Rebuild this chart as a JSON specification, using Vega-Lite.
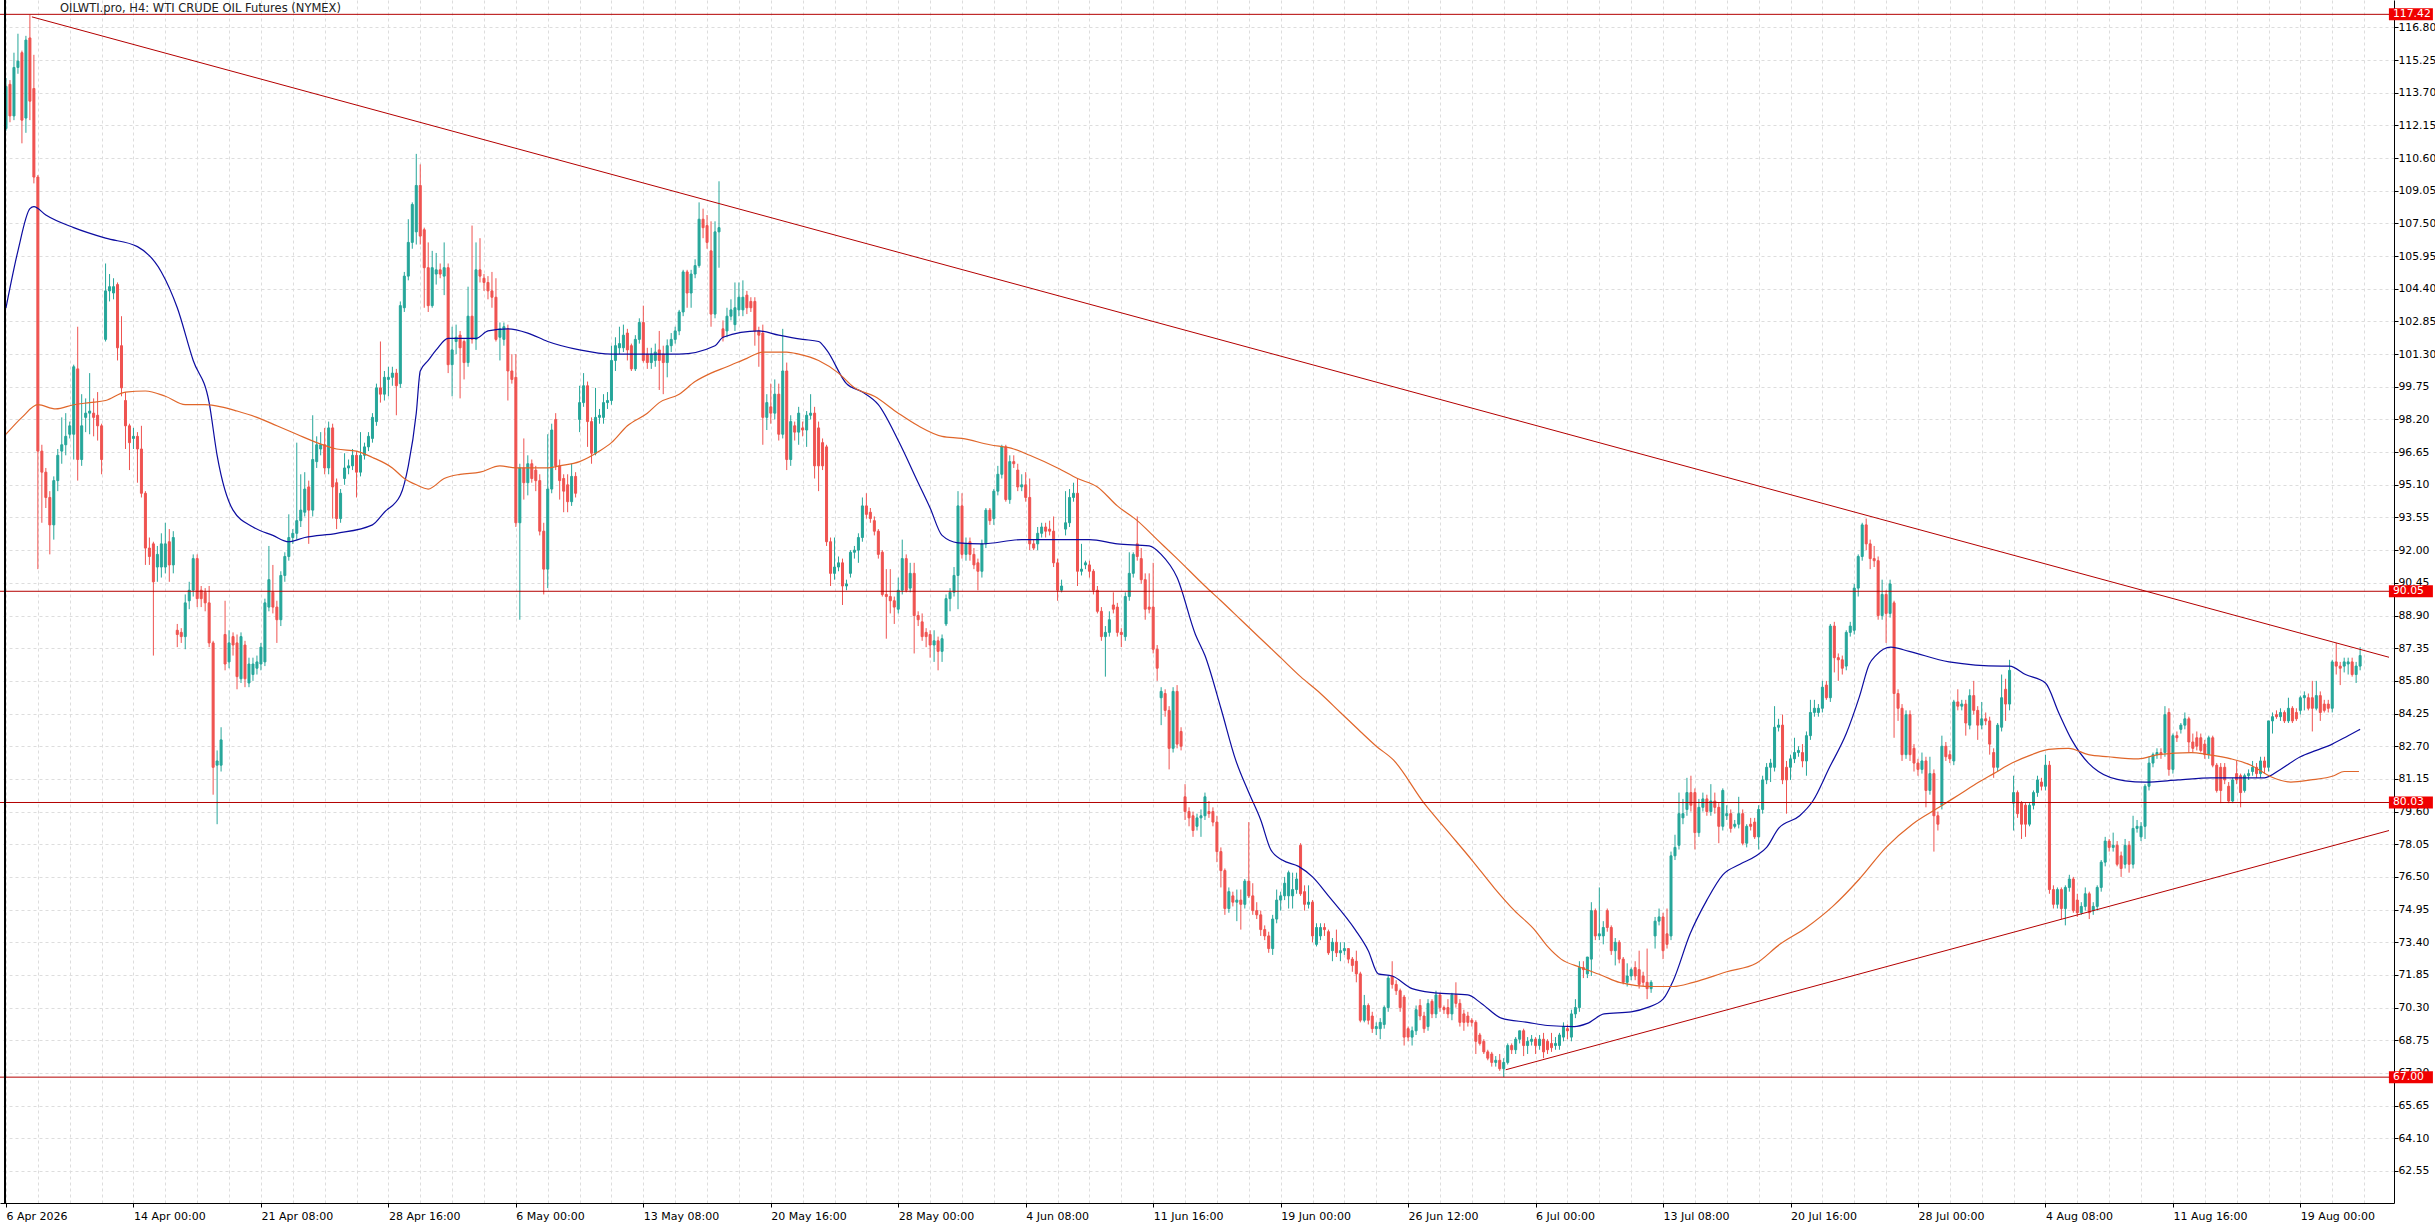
{
  "$schema": "https://vega.github.io/schema/vega-lite/v6.json",
  "width": 2394,
  "height": 1203,
  "autosize": {"type": "none"},
  "padding": {"left": 0, "top": 0, "right": 41, "bottom": 24},
  "background": "#ffffff",
  "config": {
    "view": {"stroke": null},
    "axis": {"labelOverlap": false, "labelSeparation": 0, "labelBound": false}
  },
  "title": {
    "text": "OILWTI.pro, H4:  WTI CRUDE OIL Futures (NYMEX)",
    "anchor": "start",
    "frame": "group",
    "offset": -15,
    "dx": 60,
    "font": "DejaVu Sans",
    "fontSize": 11.5,
    "fontWeight": "normal",
    "color": "#222222"
  },
  "datasets": {
    "candles": [
      {"i":0,"o":112.0,"h":114.4,"l":111.9,"c":114.0},
      {"i":1,"o":114.1,"h":114.3,"l":112.3,"c":112.6},
      {"i":2,"o":112.6,"h":115.6,"l":112.4,"c":114.9},
      {"i":3,"o":114.9,"h":116.5,"l":114.6,"c":115.2},
      {"i":4,"o":115.6,"h":115.7,"l":111.3,"c":112.4},
      {"i":5,"o":112.5,"h":116.4,"l":111.8,"c":116.2},
      {"i":6,"o":116.3,"h":117.4,"l":112.4,"c":113.3},
      {"i":7,"o":113.9,"h":115.5,"l":109.4,"c":109.7},
      {"i":8,"o":109.7,"h":109.8,"l":91.1,"c":96.7},
      {"i":9,"o":96.7,"h":97.0,"l":93.3,"c":95.7},
      {"i":10,"o":95.7,"h":95.9,"l":94.0,"c":94.5},
      {"i":11,"o":94.5,"h":94.8,"l":91.8,"c":93.2},
      {"i":12,"o":93.2,"h":95.5,"l":92.5,"c":95.3},
      {"i":13,"o":95.3,"h":96.8,"l":94.8,"c":96.5},
      {"i":14,"o":96.7,"h":98.3,"l":96.1,"c":97.0},
      {"i":15,"o":97.0,"h":98.5,"l":96.5,"c":97.4},
      {"i":16,"o":97.5,"h":98.1,"l":97.3,"c":97.9},
      {"i":17,"o":97.5,"h":100.8,"l":96.3,"c":100.7},
      {"i":18,"o":100.6,"h":102.6,"l":95.3,"c":96.3},
      {"i":19,"o":96.3,"h":99.4,"l":96.0,"c":97.9},
      {"i":20,"o":98.3,"h":99.2,"l":97.6,"c":98.5},
      {"i":21,"o":98.5,"h":100.4,"l":97.5,"c":98.6},
      {"i":22,"o":98.5,"h":99.2,"l":97.4,"c":98.3},
      {"i":23,"o":98.4,"h":99.5,"l":97.2,"c":97.9},
      {"i":24,"o":97.9,"h":98.0,"l":95.6,"c":96.3},
      {"i":25,"o":102.0,"h":105.6,"l":101.9,"c":104.3},
      {"i":26,"o":104.3,"h":105.1,"l":103.8,"c":104.5},
      {"i":27,"o":104.2,"h":104.9,"l":103.9,"c":104.5},
      {"i":28,"o":104.6,"h":104.7,"l":101.0,"c":101.6},
      {"i":29,"o":101.7,"h":103.1,"l":99.3,"c":99.7},
      {"i":30,"o":99.1,"h":99.5,"l":96.8,"c":97.9},
      {"i":31,"o":97.9,"h":98.0,"l":95.8,"c":97.1},
      {"i":32,"o":97.3,"h":97.8,"l":96.8,"c":97.4},
      {"i":33,"o":97.4,"h":97.6,"l":95.2,"c":96.8},
      {"i":34,"o":96.8,"h":97.9,"l":94.5,"c":94.7},
      {"i":35,"o":94.7,"h":94.8,"l":91.3,"c":92.1},
      {"i":36,"o":92.1,"h":92.6,"l":91.3,"c":91.7},
      {"i":37,"o":92.3,"h":92.4,"l":87.0,"c":90.5},
      {"i":38,"o":91.2,"h":92.2,"l":90.5,"c":91.8},
      {"i":39,"o":91.2,"h":92.8,"l":90.7,"c":92.3},
      {"i":40,"o":91.2,"h":93.3,"l":90.9,"c":92.3},
      {"i":41,"o":92.4,"h":93.0,"l":90.5,"c":91.3},
      {"i":42,"o":91.3,"h":92.9,"l":90.9,"c":92.6},
      {"i":43,"o":88.2,"h":88.5,"l":87.4,"c":88.0},
      {"i":44,"o":88.1,"h":88.3,"l":87.6,"c":87.9},
      {"i":45,"o":87.9,"h":89.9,"l":87.3,"c":89.5},
      {"i":46,"o":89.6,"h":90.5,"l":89.2,"c":90.1},
      {"i":47,"o":90.1,"h":91.8,"l":89.8,"c":91.6},
      {"i":48,"o":91.6,"h":91.8,"l":89.3,"c":89.7},
      {"i":49,"o":90.1,"h":90.3,"l":89.3,"c":89.7},
      {"i":50,"o":90.0,"h":90.2,"l":89.1,"c":89.5},
      {"i":51,"o":89.5,"h":90.3,"l":87.4,"c":87.6},
      {"i":52,"o":87.6,"h":87.7,"l":80.4,"c":81.7},
      {"i":53,"o":81.8,"h":82.5,"l":79.0,"c":82.0},
      {"i":54,"o":81.8,"h":83.6,"l":81.5,"c":83.0},
      {"i":55,"o":88.0,"h":89.6,"l":86.3,"c":86.6},
      {"i":56,"o":86.7,"h":88.2,"l":86.4,"c":87.6},
      {"i":57,"o":87.9,"h":88.1,"l":87.0,"c":87.5},
      {"i":58,"o":87.6,"h":88.0,"l":85.4,"c":86.0},
      {"i":59,"o":85.9,"h":88.1,"l":85.7,"c":87.9},
      {"i":60,"o":87.5,"h":87.7,"l":85.5,"c":85.9},
      {"i":61,"o":85.7,"h":86.9,"l":85.5,"c":86.6},
      {"i":62,"o":86.1,"h":86.9,"l":85.8,"c":86.6},
      {"i":63,"o":86.4,"h":87.0,"l":86.1,"c":86.7},
      {"i":64,"o":86.6,"h":87.6,"l":86.3,"c":87.4},
      {"i":65,"o":86.7,"h":89.7,"l":86.5,"c":89.5},
      {"i":66,"o":89.3,"h":92.2,"l":89.1,"c":90.6},
      {"i":67,"o":90.0,"h":91.3,"l":89.0,"c":89.3},
      {"i":68,"o":89.3,"h":89.6,"l":87.6,"c":88.7},
      {"i":69,"o":88.7,"h":91.0,"l":88.4,"c":90.8},
      {"i":70,"o":90.8,"h":91.9,"l":90.5,"c":91.7},
      {"i":71,"o":91.7,"h":93.7,"l":91.5,"c":92.6},
      {"i":72,"o":92.6,"h":93.0,"l":92.3,"c":92.8},
      {"i":73,"o":92.8,"h":97.1,"l":92.5,"c":93.4},
      {"i":74,"o":93.4,"h":95.6,"l":93.1,"c":93.9},
      {"i":75,"o":93.8,"h":95.7,"l":93.6,"c":94.9},
      {"i":76,"o":95.0,"h":95.3,"l":92.3,"c":93.9},
      {"i":77,"o":93.9,"h":98.4,"l":93.6,"c":96.3},
      {"i":78,"o":96.2,"h":97.4,"l":95.9,"c":97.0},
      {"i":79,"o":96.8,"h":97.6,"l":96.5,"c":97.0},
      {"i":80,"o":97.0,"h":97.8,"l":95.6,"c":95.9},
      {"i":81,"o":95.9,"h":98.1,"l":95.6,"c":97.8},
      {"i":82,"o":97.8,"h":98.0,"l":93.5,"c":95.0},
      {"i":83,"o":95.2,"h":95.4,"l":93.0,"c":93.5},
      {"i":84,"o":93.5,"h":94.9,"l":93.3,"c":94.7},
      {"i":85,"o":95.4,"h":96.6,"l":95.1,"c":95.9},
      {"i":86,"o":95.9,"h":96.3,"l":95.6,"c":96.0},
      {"i":87,"o":96.0,"h":96.8,"l":95.8,"c":96.5},
      {"i":88,"o":96.5,"h":96.7,"l":94.5,"c":95.7},
      {"i":89,"o":95.7,"h":97.6,"l":95.5,"c":96.5},
      {"i":90,"o":96.5,"h":97.1,"l":96.3,"c":96.9},
      {"i":91,"o":96.9,"h":97.6,"l":96.7,"c":97.4},
      {"i":92,"o":97.3,"h":98.5,"l":97.1,"c":98.3},
      {"i":93,"o":98.1,"h":99.9,"l":97.9,"c":99.7},
      {"i":94,"o":99.7,"h":101.9,"l":99.0,"c":99.4},
      {"i":95,"o":99.4,"h":100.5,"l":99.1,"c":100.2},
      {"i":96,"o":100.1,"h":100.7,"l":99.3,"c":100.2},
      {"i":97,"o":100.2,"h":100.7,"l":99.8,"c":100.4},
      {"i":98,"o":100.4,"h":100.6,"l":98.4,"c":99.8},
      {"i":99,"o":99.9,"h":103.8,"l":99.7,"c":103.6},
      {"i":100,"o":103.5,"h":105.2,"l":103.3,"c":105.0},
      {"i":101,"o":105.0,"h":107.7,"l":104.8,"c":106.6},
      {"i":102,"o":106.6,"h":108.5,"l":106.3,"c":108.4},
      {"i":103,"o":107.1,"h":110.8,"l":106.5,"c":109.3},
      {"i":104,"o":109.3,"h":110.3,"l":106.5,"c":106.9},
      {"i":105,"o":107.2,"h":107.3,"l":103.5,"c":105.4},
      {"i":106,"o":105.4,"h":106.6,"l":103.3,"c":103.6},
      {"i":107,"o":103.6,"h":106.2,"l":103.5,"c":105.4},
      {"i":108,"o":105.1,"h":106.1,"l":104.6,"c":105.3},
      {"i":109,"o":105.3,"h":105.6,"l":104.9,"c":105.1},
      {"i":110,"o":105.0,"h":106.6,"l":104.1,"c":105.4},
      {"i":111,"o":105.4,"h":105.6,"l":100.4,"c":100.8},
      {"i":112,"o":100.8,"h":102.6,"l":99.3,"c":101.5},
      {"i":113,"o":101.9,"h":102.7,"l":101.3,"c":102.1},
      {"i":114,"o":102.2,"h":102.4,"l":99.2,"c":101.6},
      {"i":115,"o":101.9,"h":102.0,"l":100.1,"c":100.9},
      {"i":116,"o":100.9,"h":104.5,"l":100.7,"c":103.1},
      {"i":117,"o":103.1,"h":107.4,"l":101.8,"c":102.0},
      {"i":118,"o":102.0,"h":106.6,"l":101.5,"c":105.3},
      {"i":119,"o":105.3,"h":106.8,"l":104.7,"c":105.0},
      {"i":120,"o":104.9,"h":105.1,"l":104.3,"c":104.7},
      {"i":121,"o":104.7,"h":105.0,"l":103.9,"c":104.3},
      {"i":122,"o":104.3,"h":105.2,"l":103.5,"c":104.0},
      {"i":123,"o":104.0,"h":104.9,"l":101.9,"c":102.0},
      {"i":124,"o":102.1,"h":102.8,"l":101.0,"c":102.5},
      {"i":125,"o":102.0,"h":102.8,"l":101.7,"c":102.6},
      {"i":126,"o":102.5,"h":102.7,"l":99.1,"c":100.5},
      {"i":127,"o":100.5,"h":101.3,"l":99.9,"c":100.1},
      {"i":128,"o":100.2,"h":101.3,"l":93.1,"c":93.3},
      {"i":129,"o":93.3,"h":96.1,"l":88.7,"c":95.9},
      {"i":130,"o":95.9,"h":97.3,"l":94.4,"c":95.2},
      {"i":131,"o":95.2,"h":96.5,"l":94.6,"c":96.1},
      {"i":132,"o":96.1,"h":96.3,"l":95.2,"c":95.4},
      {"i":133,"o":95.8,"h":96.0,"l":94.8,"c":95.3},
      {"i":134,"o":95.3,"h":95.6,"l":92.7,"c":92.9},
      {"i":135,"o":92.9,"h":93.3,"l":89.9,"c":91.1},
      {"i":136,"o":91.1,"h":97.5,"l":90.2,"c":94.9},
      {"i":137,"o":94.9,"h":98.0,"l":94.7,"c":97.7},
      {"i":138,"o":98.2,"h":98.5,"l":95.8,"c":96.0},
      {"i":139,"o":96.0,"h":96.3,"l":94.4,"c":95.3},
      {"i":140,"o":95.4,"h":95.6,"l":93.8,"c":94.8},
      {"i":141,"o":95.1,"h":95.6,"l":93.8,"c":94.3},
      {"i":142,"o":94.3,"h":96.1,"l":94.1,"c":95.5},
      {"i":143,"o":95.5,"h":95.7,"l":94.5,"c":94.7},
      {"i":144,"o":98.2,"h":99.8,"l":97.6,"c":99.0},
      {"i":145,"o":99.0,"h":100.4,"l":98.8,"c":99.8},
      {"i":146,"o":99.8,"h":100.0,"l":96.9,"c":98.1},
      {"i":147,"o":98.1,"h":98.3,"l":96.1,"c":96.6},
      {"i":148,"o":96.6,"h":99.7,"l":96.5,"c":98.3},
      {"i":149,"o":98.3,"h":98.7,"l":98.0,"c":98.4},
      {"i":150,"o":98.3,"h":99.4,"l":98.0,"c":99.0},
      {"i":151,"o":99.0,"h":99.5,"l":98.7,"c":99.1},
      {"i":152,"o":99.1,"h":101.7,"l":98.9,"c":101.0},
      {"i":153,"o":101.0,"h":102.1,"l":100.5,"c":101.7},
      {"i":154,"o":101.6,"h":102.6,"l":101.3,"c":101.8},
      {"i":155,"o":101.6,"h":102.7,"l":101.4,"c":102.2},
      {"i":156,"o":102.3,"h":102.5,"l":101.0,"c":101.5},
      {"i":157,"o":101.7,"h":101.8,"l":100.5,"c":100.6},
      {"i":158,"o":100.6,"h":102.2,"l":100.5,"c":102.0},
      {"i":159,"o":102.0,"h":103.0,"l":101.8,"c":102.8},
      {"i":160,"o":102.8,"h":103.6,"l":100.9,"c":101.0},
      {"i":161,"o":101.3,"h":101.6,"l":100.6,"c":100.9},
      {"i":162,"o":100.9,"h":101.6,"l":100.6,"c":101.3},
      {"i":163,"o":101.0,"h":101.8,"l":100.7,"c":101.4},
      {"i":164,"o":101.5,"h":102.4,"l":99.6,"c":101.0},
      {"i":165,"o":101.3,"h":101.7,"l":99.4,"c":100.9},
      {"i":166,"o":100.9,"h":102.0,"l":100.2,"c":101.7},
      {"i":167,"o":101.7,"h":102.3,"l":101.4,"c":102.0},
      {"i":168,"o":102.0,"h":102.6,"l":101.8,"c":102.4},
      {"i":169,"o":102.4,"h":103.4,"l":102.2,"c":103.3},
      {"i":170,"o":103.3,"h":105.3,"l":103.1,"c":105.2},
      {"i":171,"o":105.2,"h":105.3,"l":103.5,"c":104.2},
      {"i":172,"o":104.2,"h":105.3,"l":103.5,"c":105.1},
      {"i":173,"o":105.1,"h":105.8,"l":104.9,"c":105.5},
      {"i":174,"o":105.5,"h":108.5,"l":105.4,"c":107.7},
      {"i":175,"o":107.7,"h":108.2,"l":106.8,"c":107.3},
      {"i":176,"o":107.4,"h":107.9,"l":106.3,"c":106.6},
      {"i":177,"o":106.2,"h":107.6,"l":102.6,"c":103.2},
      {"i":178,"o":103.2,"h":107.6,"l":103.0,"c":107.1},
      {"i":179,"o":107.1,"h":109.5,"l":105.4,"c":107.3},
      {"i":180,"o":102.5,"h":102.9,"l":101.9,"c":102.1},
      {"i":181,"o":102.4,"h":103.5,"l":102.1,"c":103.1},
      {"i":182,"o":103.1,"h":103.9,"l":102.9,"c":103.4},
      {"i":183,"o":102.7,"h":104.7,"l":102.4,"c":103.5},
      {"i":184,"o":103.4,"h":104.7,"l":103.1,"c":104.0},
      {"i":185,"o":103.4,"h":104.8,"l":103.1,"c":104.0},
      {"i":186,"o":104.1,"h":104.3,"l":103.2,"c":103.5},
      {"i":187,"o":103.8,"h":104.0,"l":103.3,"c":103.5},
      {"i":188,"o":103.8,"h":104.0,"l":101.7,"c":102.4},
      {"i":189,"o":102.4,"h":102.6,"l":100.7,"c":102.2},
      {"i":190,"o":102.3,"h":102.7,"l":97.0,"c":98.3},
      {"i":191,"o":98.3,"h":99.4,"l":97.7,"c":99.0},
      {"i":192,"o":98.8,"h":99.9,"l":98.0,"c":98.5},
      {"i":193,"o":98.5,"h":100.1,"l":98.2,"c":99.4},
      {"i":194,"o":99.4,"h":99.9,"l":97.2,"c":97.5},
      {"i":195,"o":97.5,"h":102.5,"l":97.3,"c":100.5},
      {"i":196,"o":100.5,"h":100.9,"l":95.8,"c":96.3},
      {"i":197,"o":96.3,"h":98.4,"l":96.0,"c":98.1},
      {"i":198,"o":97.9,"h":98.1,"l":97.2,"c":97.6},
      {"i":199,"o":97.6,"h":98.8,"l":97.0,"c":98.5},
      {"i":200,"o":97.8,"h":98.1,"l":97.4,"c":97.7},
      {"i":201,"o":97.7,"h":98.6,"l":96.9,"c":98.4},
      {"i":202,"o":98.4,"h":99.4,"l":98.2,"c":98.5},
      {"i":203,"o":98.5,"h":98.8,"l":95.4,"c":96.0},
      {"i":204,"o":97.8,"h":98.1,"l":94.8,"c":96.0},
      {"i":205,"o":97.1,"h":97.3,"l":95.8,"c":96.0},
      {"i":206,"o":96.9,"h":97.0,"l":92.2,"c":92.4},
      {"i":207,"o":92.4,"h":92.6,"l":90.3,"c":90.9},
      {"i":208,"o":90.9,"h":92.6,"l":90.6,"c":91.2},
      {"i":209,"o":91.2,"h":91.7,"l":91.0,"c":91.4},
      {"i":210,"o":91.4,"h":91.6,"l":89.4,"c":90.3},
      {"i":211,"o":90.3,"h":90.6,"l":90.1,"c":90.4},
      {"i":212,"o":90.9,"h":92.0,"l":90.7,"c":91.9},
      {"i":213,"o":91.9,"h":92.2,"l":91.6,"c":92.0},
      {"i":214,"o":92.0,"h":92.8,"l":91.4,"c":92.6},
      {"i":215,"o":92.6,"h":94.5,"l":92.4,"c":94.1},
      {"i":216,"o":94.1,"h":94.7,"l":93.5,"c":93.7},
      {"i":217,"o":93.8,"h":94.0,"l":93.3,"c":93.5},
      {"i":218,"o":93.4,"h":93.6,"l":92.7,"c":92.9},
      {"i":219,"o":92.9,"h":93.0,"l":91.6,"c":91.8},
      {"i":220,"o":91.9,"h":92.0,"l":89.8,"c":89.9},
      {"i":221,"o":89.9,"h":91.1,"l":87.8,"c":89.8},
      {"i":222,"o":89.8,"h":91.1,"l":89.0,"c":89.6},
      {"i":223,"o":89.6,"h":89.8,"l":88.5,"c":89.3},
      {"i":224,"o":89.2,"h":90.7,"l":89.0,"c":90.1},
      {"i":225,"o":90.1,"h":92.5,"l":89.9,"c":91.6},
      {"i":226,"o":91.6,"h":91.8,"l":90.0,"c":90.1},
      {"i":227,"o":90.2,"h":91.4,"l":90.0,"c":90.9},
      {"i":228,"o":90.9,"h":91.4,"l":87.1,"c":88.9},
      {"i":229,"o":88.9,"h":89.1,"l":88.4,"c":88.7},
      {"i":230,"o":88.6,"h":89.0,"l":87.7,"c":87.9},
      {"i":231,"o":88.1,"h":88.3,"l":87.4,"c":87.9},
      {"i":232,"o":88.0,"h":88.2,"l":86.9,"c":87.5},
      {"i":233,"o":87.5,"h":88.2,"l":86.7,"c":87.7},
      {"i":234,"o":87.7,"h":87.9,"l":86.3,"c":87.2},
      {"i":235,"o":87.2,"h":88.0,"l":86.7,"c":87.8},
      {"i":236,"o":88.5,"h":89.9,"l":88.4,"c":89.7},
      {"i":237,"o":89.7,"h":90.2,"l":89.1,"c":90.0},
      {"i":238,"o":90.0,"h":91.2,"l":89.8,"c":90.8},
      {"i":239,"o":90.8,"h":94.8,"l":89.2,"c":94.1},
      {"i":240,"o":94.1,"h":94.7,"l":91.6,"c":91.8},
      {"i":241,"o":91.8,"h":92.6,"l":91.5,"c":92.3},
      {"i":242,"o":92.4,"h":92.6,"l":91.5,"c":91.8},
      {"i":243,"o":91.8,"h":92.1,"l":91.1,"c":91.3},
      {"i":244,"o":91.4,"h":91.6,"l":90.1,"c":91.0},
      {"i":245,"o":91.0,"h":92.5,"l":90.7,"c":92.3},
      {"i":246,"o":92.3,"h":94.0,"l":92.1,"c":93.9},
      {"i":247,"o":93.9,"h":94.0,"l":93.2,"c":93.4},
      {"i":248,"o":93.5,"h":94.9,"l":93.2,"c":94.8},
      {"i":249,"o":94.8,"h":96.0,"l":94.6,"c":95.6},
      {"i":250,"o":95.6,"h":97.0,"l":95.4,"c":96.9},
      {"i":251,"o":96.9,"h":97.0,"l":94.3,"c":94.4},
      {"i":252,"o":94.4,"h":96.5,"l":94.2,"c":96.2},
      {"i":253,"o":96.2,"h":96.5,"l":95.9,"c":96.1},
      {"i":254,"o":95.8,"h":96.1,"l":94.8,"c":95.0},
      {"i":255,"o":95.0,"h":95.6,"l":94.8,"c":95.1},
      {"i":256,"o":95.1,"h":95.7,"l":94.3,"c":94.5},
      {"i":257,"o":94.5,"h":95.4,"l":92.0,"c":92.3},
      {"i":258,"o":92.3,"h":92.5,"l":92.0,"c":92.1},
      {"i":259,"o":92.3,"h":93.1,"l":92.0,"c":92.8},
      {"i":260,"o":92.8,"h":93.3,"l":92.6,"c":93.1},
      {"i":261,"o":93.1,"h":93.3,"l":92.6,"c":92.9},
      {"i":262,"o":93.0,"h":93.4,"l":92.7,"c":92.9},
      {"i":263,"o":92.9,"h":93.6,"l":91.2,"c":91.4},
      {"i":264,"o":91.4,"h":91.6,"l":89.6,"c":90.1},
      {"i":265,"o":90.1,"h":90.6,"l":90.0,"c":90.3},
      {"i":266,"o":93.0,"h":94.8,"l":92.7,"c":93.3},
      {"i":267,"o":93.3,"h":94.9,"l":93.1,"c":94.5},
      {"i":268,"o":94.5,"h":95.2,"l":94.3,"c":94.7},
      {"i":269,"o":94.7,"h":95.4,"l":90.3,"c":91.0},
      {"i":270,"o":91.0,"h":92.3,"l":90.8,"c":91.1},
      {"i":271,"o":91.3,"h":91.5,"l":91.1,"c":91.4},
      {"i":272,"o":91.3,"h":91.5,"l":90.7,"c":91.0},
      {"i":273,"o":91.0,"h":91.1,"l":89.9,"c":90.1},
      {"i":274,"o":90.1,"h":90.3,"l":89.0,"c":89.1},
      {"i":275,"o":89.1,"h":89.3,"l":87.7,"c":87.9},
      {"i":276,"o":87.9,"h":88.4,"l":86.0,"c":88.1},
      {"i":277,"o":88.1,"h":89.1,"l":87.9,"c":88.7},
      {"i":278,"o":89.4,"h":90.0,"l":89.0,"c":89.2},
      {"i":279,"o":89.3,"h":89.5,"l":87.9,"c":88.1},
      {"i":280,"o":88.1,"h":88.3,"l":87.4,"c":88.0},
      {"i":281,"o":87.9,"h":90.0,"l":87.7,"c":89.8},
      {"i":282,"o":89.8,"h":91.9,"l":89.6,"c":90.9},
      {"i":283,"o":90.9,"h":91.9,"l":90.7,"c":91.8},
      {"i":284,"o":92.3,"h":93.6,"l":91.5,"c":91.7},
      {"i":285,"o":91.6,"h":92.1,"l":90.4,"c":90.6},
      {"i":286,"o":90.6,"h":90.9,"l":88.7,"c":89.2},
      {"i":287,"o":89.3,"h":90.9,"l":89.0,"c":89.2},
      {"i":288,"o":89.3,"h":91.4,"l":87.1,"c":87.3},
      {"i":289,"o":87.3,"h":87.5,"l":85.8,"c":86.4},
      {"i":290,"o":85.0,"h":85.5,"l":83.7,"c":85.3},
      {"i":291,"o":85.2,"h":85.4,"l":84.1,"c":84.4},
      {"i":292,"o":84.4,"h":84.6,"l":81.6,"c":82.6},
      {"i":293,"o":82.6,"h":85.5,"l":82.4,"c":85.3},
      {"i":294,"o":85.3,"h":85.6,"l":82.6,"c":82.8},
      {"i":295,"o":83.4,"h":83.6,"l":82.5,"c":82.7},
      {"i":296,"o":80.3,"h":80.9,"l":79.2,"c":79.6},
      {"i":297,"o":79.6,"h":79.8,"l":78.9,"c":79.3},
      {"i":298,"o":79.4,"h":79.6,"l":78.4,"c":78.7},
      {"i":299,"o":78.9,"h":79.5,"l":78.7,"c":79.3},
      {"i":300,"o":79.3,"h":79.7,"l":78.4,"c":79.4},
      {"i":301,"o":79.4,"h":80.5,"l":79.2,"c":80.3},
      {"i":302,"o":79.6,"h":80.1,"l":79.3,"c":79.5},
      {"i":303,"o":79.6,"h":79.8,"l":78.9,"c":79.1},
      {"i":304,"o":79.1,"h":79.4,"l":77.2,"c":77.7},
      {"i":305,"o":77.7,"h":77.9,"l":76.0,"c":76.8},
      {"i":306,"o":76.8,"h":76.9,"l":74.7,"c":75.0},
      {"i":307,"o":75.0,"h":76.0,"l":74.8,"c":75.8},
      {"i":308,"o":75.6,"h":75.8,"l":75.1,"c":75.3},
      {"i":309,"o":75.3,"h":75.9,"l":74.4,"c":75.4},
      {"i":310,"o":75.4,"h":75.9,"l":74.0,"c":75.2},
      {"i":311,"o":75.2,"h":76.4,"l":75.0,"c":76.3},
      {"i":312,"o":76.3,"h":79.1,"l":75.5,"c":75.6},
      {"i":313,"o":75.6,"h":76.2,"l":74.7,"c":74.9},
      {"i":314,"o":74.9,"h":75.3,"l":74.5,"c":74.7},
      {"i":315,"o":74.7,"h":74.9,"l":73.7,"c":74.0},
      {"i":316,"o":74.0,"h":74.2,"l":73.5,"c":73.7},
      {"i":317,"o":73.7,"h":73.9,"l":72.9,"c":73.1},
      {"i":318,"o":73.1,"h":74.7,"l":72.8,"c":74.5},
      {"i":319,"o":74.5,"h":75.9,"l":74.3,"c":75.4},
      {"i":320,"o":75.4,"h":75.8,"l":74.9,"c":75.6},
      {"i":321,"o":75.6,"h":76.5,"l":75.4,"c":76.2},
      {"i":322,"o":75.6,"h":76.8,"l":75.0,"c":76.7},
      {"i":323,"o":75.6,"h":76.7,"l":75.0,"c":75.9},
      {"i":324,"o":75.9,"h":76.7,"l":75.7,"c":76.4},
      {"i":325,"o":78.0,"h":78.1,"l":75.6,"c":75.7},
      {"i":326,"o":75.8,"h":76.1,"l":74.9,"c":75.2},
      {"i":327,"o":75.2,"h":76.1,"l":75.0,"c":75.3},
      {"i":328,"o":75.3,"h":75.4,"l":73.4,"c":73.7},
      {"i":329,"o":73.3,"h":74.3,"l":73.2,"c":74.1},
      {"i":330,"o":73.7,"h":74.3,"l":73.5,"c":74.1},
      {"i":331,"o":74.1,"h":74.3,"l":73.7,"c":74.0},
      {"i":332,"o":73.9,"h":74.0,"l":72.8,"c":72.9},
      {"i":333,"o":73.0,"h":73.6,"l":72.5,"c":73.4},
      {"i":334,"o":73.4,"h":74.0,"l":72.7,"c":72.9},
      {"i":335,"o":72.9,"h":73.4,"l":72.5,"c":73.0},
      {"i":336,"o":73.0,"h":73.4,"l":72.8,"c":73.1},
      {"i":337,"o":73.1,"h":73.1,"l":72.4,"c":72.6},
      {"i":338,"o":72.6,"h":72.7,"l":72.0,"c":72.3},
      {"i":339,"o":72.5,"h":73.0,"l":71.5,"c":71.9},
      {"i":340,"o":71.9,"h":72.0,"l":69.6,"c":69.7},
      {"i":341,"o":69.7,"h":70.9,"l":69.6,"c":70.4},
      {"i":342,"o":70.4,"h":70.5,"l":69.5,"c":69.7},
      {"i":343,"o":69.9,"h":70.1,"l":69.1,"c":69.3},
      {"i":344,"o":69.3,"h":69.6,"l":69.0,"c":69.4},
      {"i":345,"o":69.3,"h":69.8,"l":68.8,"c":69.6},
      {"i":346,"o":69.5,"h":70.4,"l":69.3,"c":70.3},
      {"i":347,"o":70.3,"h":71.8,"l":70.1,"c":71.7},
      {"i":348,"o":71.8,"h":72.5,"l":71.2,"c":71.4},
      {"i":349,"o":71.4,"h":71.6,"l":70.9,"c":71.1},
      {"i":350,"o":71.1,"h":71.2,"l":70.1,"c":70.3},
      {"i":351,"o":70.8,"h":70.9,"l":68.5,"c":68.9},
      {"i":352,"o":69.3,"h":69.4,"l":68.7,"c":68.9},
      {"i":353,"o":68.9,"h":69.4,"l":68.5,"c":69.2},
      {"i":354,"o":69.2,"h":70.4,"l":69.0,"c":70.2},
      {"i":355,"o":70.4,"h":70.7,"l":69.7,"c":69.9},
      {"i":356,"o":69.9,"h":70.1,"l":69.1,"c":69.3},
      {"i":357,"o":69.4,"h":70.7,"l":69.2,"c":70.5},
      {"i":358,"o":70.6,"h":70.7,"l":69.8,"c":70.0},
      {"i":359,"o":70.0,"h":71.1,"l":69.8,"c":70.9},
      {"i":360,"o":70.9,"h":71.0,"l":70.1,"c":70.3},
      {"i":361,"o":70.3,"h":70.4,"l":70.0,"c":70.2},
      {"i":362,"o":70.3,"h":70.7,"l":69.8,"c":70.0},
      {"i":363,"o":70.0,"h":71.0,"l":69.7,"c":70.9},
      {"i":364,"o":70.9,"h":71.5,"l":70.3,"c":70.5},
      {"i":365,"o":70.5,"h":70.7,"l":69.4,"c":69.6},
      {"i":366,"o":70.0,"h":70.2,"l":69.2,"c":69.6},
      {"i":367,"o":69.9,"h":70.1,"l":69.4,"c":69.6},
      {"i":368,"o":69.7,"h":69.8,"l":69.4,"c":69.6},
      {"i":369,"o":69.6,"h":69.7,"l":68.1,"c":68.7},
      {"i":370,"o":69.0,"h":69.1,"l":68.5,"c":68.6},
      {"i":371,"o":68.7,"h":68.8,"l":68.1,"c":68.2},
      {"i":372,"o":68.2,"h":68.3,"l":67.8,"c":67.9},
      {"i":373,"o":68.1,"h":68.2,"l":67.5,"c":67.7},
      {"i":374,"o":67.7,"h":68.0,"l":67.5,"c":67.8},
      {"i":375,"o":67.8,"h":68.1,"l":67.3,"c":67.4},
      {"i":376,"o":67.4,"h":67.9,"l":67.0,"c":67.7},
      {"i":377,"o":67.7,"h":68.6,"l":67.6,"c":68.5},
      {"i":378,"o":68.5,"h":68.6,"l":68.1,"c":68.3},
      {"i":379,"o":68.3,"h":68.9,"l":68.1,"c":68.8},
      {"i":380,"o":68.8,"h":69.2,"l":68.6,"c":69.2},
      {"i":381,"o":69.2,"h":69.3,"l":68.0,"c":68.5},
      {"i":382,"o":68.5,"h":68.9,"l":68.1,"c":68.7},
      {"i":383,"o":68.7,"h":69.0,"l":68.5,"c":68.8},
      {"i":384,"o":68.8,"h":68.9,"l":68.1,"c":68.5},
      {"i":385,"o":68.5,"h":69.0,"l":68.3,"c":68.8},
      {"i":386,"o":68.8,"h":69.1,"l":67.9,"c":68.2},
      {"i":387,"o":68.7,"h":68.8,"l":68.1,"c":68.3},
      {"i":388,"o":68.6,"h":69.1,"l":68.2,"c":68.4},
      {"i":389,"o":68.5,"h":68.9,"l":68.3,"c":68.6},
      {"i":390,"o":68.5,"h":69.1,"l":68.3,"c":69.0},
      {"i":391,"o":68.9,"h":69.6,"l":68.7,"c":69.4},
      {"i":392,"o":69.3,"h":69.5,"l":68.8,"c":69.2},
      {"i":393,"o":68.9,"h":70.2,"l":68.7,"c":70.0},
      {"i":394,"o":70.0,"h":70.7,"l":69.8,"c":70.3},
      {"i":395,"o":70.3,"h":72.5,"l":70.1,"c":72.2},
      {"i":396,"o":72.2,"h":72.5,"l":71.7,"c":72.1},
      {"i":397,"o":71.9,"h":72.7,"l":71.7,"c":72.7},
      {"i":398,"o":72.6,"h":75.3,"l":71.8,"c":74.9},
      {"i":399,"o":74.9,"h":75.0,"l":73.5,"c":73.7},
      {"i":400,"o":73.7,"h":76.0,"l":73.5,"c":73.8},
      {"i":401,"o":73.7,"h":74.4,"l":73.3,"c":74.1},
      {"i":402,"o":74.9,"h":75.0,"l":73.9,"c":74.1},
      {"i":403,"o":74.1,"h":74.2,"l":72.8,"c":73.0},
      {"i":404,"o":73.0,"h":73.6,"l":72.3,"c":73.4},
      {"i":405,"o":73.4,"h":73.5,"l":72.4,"c":72.6},
      {"i":406,"o":72.6,"h":72.7,"l":71.4,"c":71.5},
      {"i":407,"o":71.5,"h":72.4,"l":71.3,"c":71.8},
      {"i":408,"o":71.8,"h":72.2,"l":71.6,"c":72.1},
      {"i":409,"o":72.2,"h":72.5,"l":71.6,"c":71.8},
      {"i":410,"o":72.1,"h":73.0,"l":71.2,"c":71.4},
      {"i":411,"o":71.8,"h":72.0,"l":71.3,"c":71.5},
      {"i":412,"o":71.5,"h":73.1,"l":70.7,"c":71.2},
      {"i":413,"o":71.2,"h":71.6,"l":71.0,"c":71.5},
      {"i":414,"o":73.7,"h":74.6,"l":73.1,"c":74.4},
      {"i":415,"o":74.4,"h":75.0,"l":74.2,"c":74.6},
      {"i":416,"o":74.6,"h":74.8,"l":72.6,"c":73.0},
      {"i":417,"o":73.8,"h":75.0,"l":73.1,"c":73.3},
      {"i":418,"o":73.7,"h":77.7,"l":73.5,"c":77.5},
      {"i":419,"o":77.5,"h":78.5,"l":77.3,"c":77.9},
      {"i":420,"o":78.0,"h":80.5,"l":77.8,"c":79.5},
      {"i":421,"o":79.3,"h":80.2,"l":79.0,"c":79.5},
      {"i":422,"o":79.7,"h":81.2,"l":79.4,"c":80.5},
      {"i":423,"o":80.5,"h":81.3,"l":79.6,"c":79.9},
      {"i":424,"o":80.5,"h":80.7,"l":77.8,"c":78.6},
      {"i":425,"o":78.6,"h":80.2,"l":78.4,"c":79.8},
      {"i":426,"o":79.8,"h":80.5,"l":79.6,"c":80.2},
      {"i":427,"o":80.2,"h":80.4,"l":79.4,"c":79.6},
      {"i":428,"o":79.6,"h":80.9,"l":79.4,"c":80.1},
      {"i":429,"o":80.1,"h":80.5,"l":79.5,"c":79.8},
      {"i":430,"o":79.8,"h":80.0,"l":78.1,"c":78.9},
      {"i":431,"o":78.9,"h":80.7,"l":78.7,"c":80.6},
      {"i":432,"o":79.4,"h":79.9,"l":79.2,"c":79.5},
      {"i":433,"o":79.5,"h":79.7,"l":78.6,"c":78.8},
      {"i":434,"o":78.9,"h":79.2,"l":78.8,"c":79.0},
      {"i":435,"o":79.0,"h":80.3,"l":78.8,"c":79.5},
      {"i":436,"o":79.5,"h":79.7,"l":78.0,"c":78.1},
      {"i":437,"o":78.1,"h":79.0,"l":77.9,"c":78.9},
      {"i":438,"o":79.0,"h":79.3,"l":78.7,"c":78.9},
      {"i":439,"o":79.1,"h":79.3,"l":78.3,"c":78.4},
      {"i":440,"o":78.4,"h":79.9,"l":77.8,"c":79.7},
      {"i":441,"o":79.7,"h":81.3,"l":79.5,"c":81.1},
      {"i":442,"o":81.1,"h":81.9,"l":80.9,"c":81.7},
      {"i":443,"o":81.7,"h":82.1,"l":81.0,"c":81.9},
      {"i":444,"o":81.7,"h":84.6,"l":81.5,"c":83.6},
      {"i":445,"o":83.6,"h":84.0,"l":83.4,"c":83.7},
      {"i":446,"o":83.7,"h":84.2,"l":80.9,"c":81.1},
      {"i":447,"o":81.7,"h":82.0,"l":79.5,"c":81.1},
      {"i":448,"o":81.7,"h":82.3,"l":81.1,"c":82.1},
      {"i":449,"o":82.1,"h":83.1,"l":81.9,"c":82.4},
      {"i":450,"o":82.4,"h":82.7,"l":82.2,"c":82.5},
      {"i":451,"o":82.4,"h":82.8,"l":81.7,"c":82.0},
      {"i":452,"o":82.0,"h":83.4,"l":81.3,"c":83.2},
      {"i":453,"o":83.2,"h":84.9,"l":83.0,"c":84.3},
      {"i":454,"o":84.3,"h":84.9,"l":84.1,"c":84.5},
      {"i":455,"o":84.3,"h":84.7,"l":84.1,"c":84.5},
      {"i":456,"o":84.5,"h":85.8,"l":84.3,"c":85.5},
      {"i":457,"o":85.6,"h":85.8,"l":84.9,"c":85.0},
      {"i":458,"o":85.0,"h":88.5,"l":84.8,"c":88.4},
      {"i":459,"o":88.4,"h":88.6,"l":86.2,"c":86.9},
      {"i":460,"o":86.9,"h":87.1,"l":85.8,"c":86.8},
      {"i":461,"o":86.8,"h":87.0,"l":86.1,"c":86.4},
      {"i":462,"o":86.5,"h":88.2,"l":86.3,"c":88.1},
      {"i":463,"o":88.1,"h":88.6,"l":87.9,"c":88.4},
      {"i":464,"o":88.2,"h":90.4,"l":88.0,"c":90.2},
      {"i":465,"o":90.2,"h":91.8,"l":89.8,"c":91.7},
      {"i":466,"o":91.7,"h":93.3,"l":91.5,"c":93.2},
      {"i":467,"o":93.2,"h":93.5,"l":92.0,"c":92.3},
      {"i":468,"o":92.3,"h":92.5,"l":91.1,"c":91.6},
      {"i":469,"o":91.6,"h":92.2,"l":91.2,"c":91.5},
      {"i":470,"o":91.5,"h":91.7,"l":88.7,"c":88.9},
      {"i":471,"o":88.9,"h":90.6,"l":88.7,"c":89.9},
      {"i":472,"o":89.9,"h":90.1,"l":87.6,"c":89.0},
      {"i":473,"o":89.0,"h":90.6,"l":88.8,"c":90.4},
      {"i":474,"o":89.5,"h":89.6,"l":83.1,"c":85.2},
      {"i":475,"o":85.2,"h":85.4,"l":83.9,"c":84.5},
      {"i":476,"o":84.5,"h":84.7,"l":82.0,"c":82.3},
      {"i":477,"o":82.3,"h":84.4,"l":82.1,"c":84.2},
      {"i":478,"o":84.2,"h":84.4,"l":82.0,"c":82.3},
      {"i":479,"o":82.6,"h":82.8,"l":81.5,"c":81.9},
      {"i":480,"o":81.9,"h":82.1,"l":81.3,"c":81.6},
      {"i":481,"o":81.6,"h":82.4,"l":81.4,"c":82.0},
      {"i":482,"o":82.0,"h":82.2,"l":79.8,"c":80.6},
      {"i":483,"o":80.6,"h":82.2,"l":80.4,"c":81.4},
      {"i":484,"o":81.4,"h":81.6,"l":77.7,"c":79.4},
      {"i":485,"o":79.4,"h":79.6,"l":78.7,"c":79.0},
      {"i":486,"o":79.9,"h":83.2,"l":79.7,"c":82.7},
      {"i":487,"o":82.7,"h":82.9,"l":82.0,"c":82.2},
      {"i":488,"o":82.3,"h":82.5,"l":81.9,"c":82.1},
      {"i":489,"o":82.0,"h":84.9,"l":81.8,"c":84.8},
      {"i":490,"o":84.8,"h":85.4,"l":84.4,"c":84.6},
      {"i":491,"o":84.6,"h":84.9,"l":84.4,"c":84.7},
      {"i":492,"o":84.7,"h":84.9,"l":83.2,"c":83.8},
      {"i":493,"o":83.7,"h":85.4,"l":83.5,"c":85.1},
      {"i":494,"o":85.1,"h":85.8,"l":84.2,"c":84.4},
      {"i":495,"o":84.4,"h":84.6,"l":83.0,"c":83.7},
      {"i":496,"o":83.7,"h":84.8,"l":83.5,"c":84.0},
      {"i":497,"o":84.0,"h":84.3,"l":83.7,"c":83.9},
      {"i":498,"o":83.9,"h":84.1,"l":82.3,"c":82.8},
      {"i":499,"o":82.4,"h":82.6,"l":81.2,"c":81.7},
      {"i":500,"o":81.7,"h":83.8,"l":81.5,"c":83.7},
      {"i":501,"o":83.6,"h":86.1,"l":83.4,"c":85.0},
      {"i":502,"o":85.4,"h":85.9,"l":83.9,"c":84.7},
      {"i":503,"o":84.7,"h":86.8,"l":84.4,"c":86.3},
      {"i":504,"o":80.0,"h":81.3,"l":78.7,"c":80.5},
      {"i":505,"o":80.5,"h":80.6,"l":79.3,"c":79.5},
      {"i":506,"o":80.0,"h":80.1,"l":78.3,"c":79.0},
      {"i":507,"o":79.9,"h":80.0,"l":78.4,"c":79.0},
      {"i":508,"o":79.0,"h":80.0,"l":78.9,"c":79.9},
      {"i":509,"o":79.9,"h":80.6,"l":79.7,"c":80.5},
      {"i":510,"o":80.5,"h":81.3,"l":80.3,"c":81.1},
      {"i":511,"o":81.0,"h":81.2,"l":80.6,"c":80.8},
      {"i":512,"o":80.8,"h":82.3,"l":80.6,"c":81.8},
      {"i":513,"o":81.8,"h":82.0,"l":75.7,"c":75.9},
      {"i":514,"o":75.9,"h":76.1,"l":75.0,"c":75.2},
      {"i":515,"o":75.2,"h":76.0,"l":75.0,"c":75.9},
      {"i":516,"o":75.9,"h":76.0,"l":74.5,"c":75.0},
      {"i":517,"o":75.0,"h":76.1,"l":74.2,"c":76.0},
      {"i":518,"o":76.0,"h":76.6,"l":75.8,"c":76.4},
      {"i":519,"o":76.4,"h":76.5,"l":74.8,"c":74.9},
      {"i":520,"o":75.4,"h":75.7,"l":74.6,"c":74.8},
      {"i":521,"o":74.8,"h":75.3,"l":74.7,"c":75.1},
      {"i":522,"o":75.1,"h":76.0,"l":74.9,"c":75.7},
      {"i":523,"o":75.7,"h":75.8,"l":74.5,"c":74.8},
      {"i":524,"o":74.9,"h":75.3,"l":74.7,"c":75.1},
      {"i":525,"o":75.1,"h":76.1,"l":74.9,"c":76.0},
      {"i":526,"o":76.0,"h":77.3,"l":75.8,"c":77.2},
      {"i":527,"o":77.2,"h":78.4,"l":77.0,"c":78.2},
      {"i":528,"o":78.2,"h":78.3,"l":77.7,"c":77.9},
      {"i":529,"o":77.9,"h":78.6,"l":77.7,"c":78.0},
      {"i":530,"o":78.0,"h":78.2,"l":77.0,"c":77.1},
      {"i":531,"o":77.5,"h":77.7,"l":76.5,"c":76.9},
      {"i":532,"o":77.1,"h":78.3,"l":76.9,"c":78.0},
      {"i":533,"o":78.0,"h":78.2,"l":76.7,"c":77.1},
      {"i":534,"o":77.1,"h":79.4,"l":76.9,"c":78.8},
      {"i":535,"o":78.8,"h":79.2,"l":78.6,"c":78.9},
      {"i":536,"o":78.4,"h":79.1,"l":78.2,"c":78.9},
      {"i":537,"o":78.9,"h":80.9,"l":78.3,"c":80.8},
      {"i":538,"o":80.8,"h":82.2,"l":80.6,"c":81.9},
      {"i":539,"o":81.9,"h":82.4,"l":81.7,"c":82.3},
      {"i":540,"o":82.3,"h":82.6,"l":82.1,"c":82.4},
      {"i":541,"o":82.4,"h":82.6,"l":82.1,"c":82.3},
      {"i":542,"o":82.4,"h":84.6,"l":82.2,"c":84.2},
      {"i":543,"o":84.3,"h":84.5,"l":81.3,"c":81.6},
      {"i":544,"o":81.6,"h":83.3,"l":81.4,"c":83.2},
      {"i":545,"o":83.2,"h":83.4,"l":82.9,"c":83.1},
      {"i":546,"o":83.5,"h":83.8,"l":83.3,"c":83.7},
      {"i":547,"o":83.7,"h":84.3,"l":83.5,"c":84.0},
      {"i":548,"o":84.0,"h":84.1,"l":82.4,"c":82.9},
      {"i":549,"o":82.9,"h":83.3,"l":82.4,"c":82.6},
      {"i":550,"o":83.1,"h":83.4,"l":82.5,"c":82.7},
      {"i":551,"o":83.1,"h":83.3,"l":82.4,"c":82.5},
      {"i":552,"o":82.8,"h":83.0,"l":82.1,"c":82.3},
      {"i":553,"o":82.3,"h":83.2,"l":82.1,"c":83.1},
      {"i":554,"o":83.1,"h":83.2,"l":81.7,"c":81.8},
      {"i":555,"o":81.8,"h":81.9,"l":80.5,"c":80.6},
      {"i":556,"o":81.7,"h":81.9,"l":80.0,"c":80.6},
      {"i":557,"o":81.7,"h":81.9,"l":80.9,"c":81.1},
      {"i":558,"o":80.8,"h":81.0,"l":80.0,"c":80.1},
      {"i":559,"o":80.1,"h":81.2,"l":80.0,"c":81.1},
      {"i":560,"o":81.4,"h":82.0,"l":80.9,"c":81.1},
      {"i":561,"o":81.3,"h":81.4,"l":79.8,"c":80.5},
      {"i":562,"o":80.6,"h":81.4,"l":80.5,"c":81.3},
      {"i":563,"o":81.3,"h":81.6,"l":81.1,"c":81.4},
      {"i":564,"o":81.5,"h":82.0,"l":81.3,"c":81.7},
      {"i":565,"o":81.7,"h":81.9,"l":81.2,"c":81.4},
      {"i":566,"o":81.4,"h":82.2,"l":81.2,"c":82.0},
      {"i":567,"o":82.0,"h":82.2,"l":81.4,"c":81.7},
      {"i":568,"o":81.7,"h":83.9,"l":81.5,"c":83.9},
      {"i":569,"o":83.9,"h":84.3,"l":83.3,"c":84.1},
      {"i":570,"o":84.2,"h":84.4,"l":84.0,"c":84.1},
      {"i":571,"o":84.1,"h":84.5,"l":83.9,"c":84.3},
      {"i":572,"o":84.3,"h":84.4,"l":83.8,"c":83.9},
      {"i":573,"o":83.9,"h":85.0,"l":83.8,"c":84.5},
      {"i":574,"o":84.5,"h":84.6,"l":83.8,"c":83.9},
      {"i":575,"o":84.3,"h":84.5,"l":83.9,"c":84.0},
      {"i":576,"o":84.4,"h":85.1,"l":84.2,"c":85.0},
      {"i":577,"o":85.0,"h":85.3,"l":84.4,"c":85.1},
      {"i":578,"o":85.0,"h":85.2,"l":84.4,"c":84.5},
      {"i":579,"o":85.0,"h":85.8,"l":83.4,"c":84.5},
      {"i":580,"o":84.5,"h":85.8,"l":84.4,"c":85.1},
      {"i":581,"o":85.1,"h":85.3,"l":83.9,"c":84.3},
      {"i":582,"o":84.7,"h":84.9,"l":84.3,"c":84.4},
      {"i":583,"o":84.7,"h":84.9,"l":84.3,"c":84.5},
      {"i":584,"o":84.5,"h":86.8,"l":84.3,"c":86.7},
      {"i":585,"o":86.7,"h":87.6,"l":86.1,"c":86.5},
      {"i":586,"o":86.5,"h":86.7,"l":85.6,"c":86.4},
      {"i":587,"o":86.5,"h":86.9,"l":86.2,"c":86.7},
      {"i":588,"o":86.6,"h":86.9,"l":86.1,"c":86.7},
      {"i":589,"o":86.7,"h":86.9,"l":86.0,"c":86.1},
      {"i":590,"o":86.1,"h":86.7,"l":85.7,"c":86.5},
      {"i":591,"o":86.5,"h":87.4,"l":86.3,"c":87.0}
    ],
    "ma": [
      {"i":0,"v":103.5,"s":"fast"},{"i":3,"v":106.2,"s":"fast"},{"i":6,"v":108.2,"s":"fast"},{"i":7,"v":108.3,"s":"fast"},
      {"i":10,"v":107.9,"s":"fast"},{"i":17,"v":107.3,"s":"fast"},{"i":25,"v":106.8,"s":"fast"},{"i":33,"v":106.4,"s":"fast"},
      {"i":39,"v":105.2,"s":"fast"},{"i":43,"v":103.5,"s":"fast"},{"i":47,"v":101.0,"s":"fast"},{"i":51,"v":99.0,"s":"fast"},
      {"i":53,"v":96.5,"s":"fast"},{"i":57,"v":93.9,"s":"fast"},{"i":62,"v":93.1,"s":"fast"},{"i":67,"v":92.7,"s":"fast"},
      {"i":71,"v":92.4,"s":"fast"},{"i":75,"v":92.6,"s":"fast"},{"i":83,"v":92.8,"s":"fast"},{"i":92,"v":93.2,"s":"fast"},
      {"i":95,"v":93.8,"s":"fast"},{"i":99,"v":94.6,"s":"fast"},{"i":101,"v":96.0,"s":"fast"},{"i":103,"v":98.5,"s":"fast"},
      {"i":104,"v":100.5,"s":"fast"},{"i":106,"v":101.0,"s":"fast"},{"i":108,"v":101.5,"s":"fast"},{"i":111,"v":102.05,"s":"fast"},
      {"i":118,"v":102.05,"s":"fast"},{"i":121,"v":102.4,"s":"fast"},{"i":126,"v":102.5,"s":"fast"},{"i":131,"v":102.3,"s":"fast"},
      {"i":136,"v":101.9,"s":"fast"},{"i":144,"v":101.5,"s":"fast"},{"i":152,"v":101.3,"s":"fast"},{"i":169,"v":101.3,"s":"fast"},
      {"i":178,"v":101.7,"s":"fast"},{"i":180,"v":102.1,"s":"fast"},{"i":189,"v":102.4,"s":"fast"},{"i":194,"v":102.2,"s":"fast"},
      {"i":200,"v":102.0,"s":"fast"},{"i":204,"v":101.9,"s":"fast"},{"i":206,"v":101.5,"s":"fast"},{"i":211,"v":99.9,"s":"fast"},
      {"i":215,"v":99.5,"s":"fast"},{"i":219,"v":98.9,"s":"fast"},{"i":224,"v":97.2,"s":"fast"},{"i":229,"v":95.2,"s":"fast"},
      {"i":232,"v":94.0,"s":"fast"},{"i":235,"v":92.7,"s":"fast"},{"i":239,"v":92.35,"s":"fast"},{"i":245,"v":92.3,"s":"fast"},
      {"i":255,"v":92.5,"s":"fast"},{"i":272,"v":92.5,"s":"fast"},{"i":279,"v":92.3,"s":"fast"},{"i":287,"v":92.2,"s":"fast"},
      {"i":290,"v":91.8,"s":"fast"},{"i":294,"v":90.7,"s":"fast"},{"i":298.6,"v":88.0,"s":"fast"},{"i":301,"v":87.0,"s":"fast"},
      {"i":305,"v":84.5,"s":"fast"},{"i":308.7,"v":82.05,"s":"fast"},{"i":312,"v":80.5,"s":"fast"},{"i":315,"v":79.2,"s":"fast"},
      {"i":317.5,"v":77.8,"s":"fast"},{"i":320.4,"v":77.3,"s":"fast"},{"i":324.5,"v":77.0,"s":"fast"},{"i":328,"v":76.5,"s":"fast"},
      {"i":332,"v":75.6,"s":"fast"},{"i":338.7,"v":74.0,"s":"fast"},{"i":342,"v":73.0,"s":"fast"},{"i":344.5,"v":71.9,"s":"fast"},
      {"i":348,"v":71.8,"s":"fast"},{"i":353,"v":71.2,"s":"fast"},{"i":358.7,"v":71.0,"s":"fast"},{"i":367,"v":70.9,"s":"fast"},
      {"i":370.4,"v":70.5,"s":"fast"},{"i":375.4,"v":69.8,"s":"fast"},{"i":382,"v":69.6,"s":"fast"},{"i":387,"v":69.45,"s":"fast"},
      {"i":393.7,"v":69.4,"s":"fast"},{"i":397,"v":69.55,"s":"fast"},{"i":401.2,"v":70.0,"s":"fast"},{"i":408,"v":70.1,"s":"fast"},
      {"i":412,"v":70.3,"s":"fast"},{"i":416,"v":70.7,"s":"fast"},{"i":418.6,"v":71.6,"s":"fast"},{"i":422.8,"v":73.8,"s":"fast"},
      {"i":427,"v":75.4,"s":"fast"},{"i":431,"v":76.6,"s":"fast"},{"i":435.3,"v":77.1,"s":"fast"},{"i":439.4,"v":77.5,"s":"fast"},
      {"i":442,"v":77.9,"s":"fast"},{"i":445,"v":78.8,"s":"fast"},{"i":450.3,"v":79.4,"s":"fast"},{"i":453.6,"v":80.1,"s":"fast"},
      {"i":457.8,"v":81.7,"s":"fast"},{"i":462,"v":83.3,"s":"fast"},{"i":465.3,"v":85.05,"s":"fast"},{"i":467.8,"v":86.6,"s":"fast"},
      {"i":469.4,"v":87.0,"s":"fast"},{"i":473.2,"v":87.4,"s":"fast"},{"i":477.8,"v":87.2,"s":"fast"},{"i":487.8,"v":86.7,"s":"fast"},
      {"i":501,"v":86.5,"s":"fast"},{"i":503,"v":86.5,"s":"fast"},{"i":507,"v":86.1,"s":"fast"},{"i":512,"v":85.7,"s":"fast"},
      {"i":515.3,"v":84.3,"s":"fast"},{"i":518.6,"v":83.0,"s":"fast"},{"i":522.8,"v":81.9,"s":"fast"},{"i":525.3,"v":81.5,"s":"fast"},
      {"i":532,"v":81.06,"s":"fast"},{"i":537,"v":81.0,"s":"fast"},{"i":545.3,"v":81.1,"s":"fast"},{"i":553.6,"v":81.2,"s":"fast"},
      {"i":567,"v":81.2,"s":"fast"},{"i":571,"v":81.6,"s":"fast"},{"i":576,"v":82.2,"s":"fast"},{"i":580,"v":82.5,"s":"fast"},
      {"i":584,"v":82.8,"s":"fast"},{"i":588,"v":83.2,"s":"fast"},{"i":591,"v":83.5,"s":"fast"},
      {"i":0,"v":97.5,"s":"slow"},{"i":4,"v":98.3,"s":"slow"},{"i":8,"v":98.9,"s":"slow"},{"i":12.5,"v":98.7,"s":"slow"},
      {"i":17,"v":98.9,"s":"slow"},{"i":21,"v":99.0,"s":"slow"},{"i":25,"v":99.1,"s":"slow"},{"i":30,"v":99.5,"s":"slow"},
      {"i":35,"v":99.55,"s":"slow"},{"i":40,"v":99.3,"s":"slow"},{"i":45,"v":98.9,"s":"slow"},{"i":50,"v":98.9,"s":"slow"},
      {"i":54,"v":98.8,"s":"slow"},{"i":58,"v":98.6,"s":"slow"},{"i":63,"v":98.3,"s":"slow"},{"i":68,"v":97.9,"s":"slow"},
      {"i":73,"v":97.5,"s":"slow"},{"i":78,"v":97.1,"s":"slow"},{"i":83,"v":96.8,"s":"slow"},{"i":88,"v":96.7,"s":"slow"},
      {"i":92,"v":96.4,"s":"slow"},{"i":97,"v":95.9,"s":"slow"},{"i":100,"v":95.4,"s":"slow"},{"i":103,"v":95.1,"s":"slow"},
      {"i":106,"v":94.9,"s":"slow"},{"i":110,"v":95.4,"s":"slow"},{"i":114,"v":95.6,"s":"slow"},{"i":119,"v":95.7,"s":"slow"},
      {"i":124,"v":96.0,"s":"slow"},{"i":128,"v":95.9,"s":"slow"},{"i":136,"v":95.9,"s":"slow"},{"i":139,"v":96.0,"s":"slow"},
      {"i":144,"v":96.2,"s":"slow"},{"i":149,"v":96.7,"s":"slow"},{"i":152,"v":97.1,"s":"slow"},{"i":156,"v":97.9,"s":"slow"},
      {"i":161,"v":98.5,"s":"slow"},{"i":164,"v":99.0,"s":"slow"},{"i":169,"v":99.4,"s":"slow"},{"i":173,"v":100.0,"s":"slow"},
      {"i":177,"v":100.4,"s":"slow"},{"i":181,"v":100.7,"s":"slow"},{"i":186,"v":101.1,"s":"slow"},{"i":190,"v":101.4,"s":"slow"},
      {"i":196,"v":101.4,"s":"slow"},{"i":199,"v":101.3,"s":"slow"},{"i":204,"v":101.0,"s":"slow"},{"i":209,"v":100.4,"s":"slow"},
      {"i":213,"v":99.7,"s":"slow"},{"i":218,"v":99.3,"s":"slow"},{"i":224,"v":98.5,"s":"slow"},{"i":229,"v":97.9,"s":"slow"},
      {"i":235,"v":97.4,"s":"slow"},{"i":240,"v":97.3,"s":"slow"},{"i":247,"v":97.0,"s":"slow"},{"i":253,"v":96.8,"s":"slow"},
      {"i":257,"v":96.5,"s":"slow"},{"i":264,"v":95.9,"s":"slow"},{"i":269,"v":95.4,"s":"slow"},{"i":274,"v":95.0,"s":"slow"},
      {"i":279,"v":94.1,"s":"slow"},{"i":284,"v":93.4,"s":"slow"},{"i":289,"v":92.5,"s":"slow"},{"i":294,"v":91.6,"s":"slow"},
      {"i":301,"v":90.3,"s":"slow"},{"i":305,"v":89.6,"s":"slow"},{"i":310,"v":88.7,"s":"slow"},{"i":315,"v":87.8,"s":"slow"},
      {"i":320,"v":86.9,"s":"slow"},{"i":325,"v":86.0,"s":"slow"},{"i":330,"v":85.2,"s":"slow"},{"i":335,"v":84.3,"s":"slow"},
      {"i":340,"v":83.4,"s":"slow"},{"i":344,"v":82.7,"s":"slow"},{"i":348.3,"v":82.05,"s":"slow"},{"i":356,"v":80.0,"s":"slow"},
      {"i":362,"v":78.65,"s":"slow"},{"i":368,"v":77.3,"s":"slow"},{"i":373.7,"v":75.96,"s":"slow"},{"i":378.7,"v":74.9,"s":"slow"},
      {"i":383.7,"v":74.0,"s":"slow"},{"i":387,"v":73.2,"s":"slow"},{"i":390.4,"v":72.6,"s":"slow"},{"i":395.4,"v":72.2,"s":"slow"},
      {"i":401,"v":71.8,"s":"slow"},{"i":405,"v":71.5,"s":"slow"},{"i":413.6,"v":71.3,"s":"slow"},{"i":418.6,"v":71.3,"s":"slow"},
      {"i":423.6,"v":71.5,"s":"slow"},{"i":432,"v":72.0,"s":"slow"},{"i":439.4,"v":72.4,"s":"slow"},{"i":445.3,"v":73.3,"s":"slow"},
      {"i":452,"v":74.1,"s":"slow"},{"i":458.6,"v":75.1,"s":"slow"},{"i":465.3,"v":76.4,"s":"slow"},{"i":472,"v":77.9,"s":"slow"},
      {"i":478.6,"v":79.0,"s":"slow"},{"i":485.3,"v":79.8,"s":"slow"},{"i":490.3,"v":80.4,"s":"slow"},{"i":495.3,"v":81.0,"s":"slow"},
      {"i":499,"v":81.4,"s":"slow"},{"i":503.6,"v":81.9,"s":"slow"},{"i":508.6,"v":82.3,"s":"slow"},{"i":512.8,"v":82.55,"s":"slow"},
      {"i":517.8,"v":82.6,"s":"slow"},{"i":522.8,"v":82.3,"s":"slow"},{"i":527.8,"v":82.2,"s":"slow"},{"i":535.3,"v":82.1,"s":"slow"},
      {"i":540.3,"v":82.3,"s":"slow"},{"i":548.6,"v":82.4,"s":"slow"},{"i":552.8,"v":82.3,"s":"slow"},{"i":558.6,"v":82.1,"s":"slow"},
      {"i":563.6,"v":81.8,"s":"slow"},{"i":568.6,"v":81.25,"s":"slow"},{"i":573.6,"v":81.0,"s":"slow"},{"i":578.6,"v":81.1,"s":"slow"},
      {"i":584.4,"v":81.3,"s":"slow"},{"i":587,"v":81.5,"s":"slow"},{"i":590.7,"v":81.5,"s":"slow"}
    ],
    "levels": [
      {"p":117.42,"t":"117.42"},
      {"p":90.05,"t":"90.05"},
      {"p":80.03,"t":"80.03"},
      {"p":67.0,"t":"67.00"}
    ],
    "trend": [
      {"i":6.5,"v":117.3,"g":"down"},
      {"i":598.25,"v":86.92,"g":"down"},
      {"i":376.5,"v":67.35,"g":"up"},
      {"i":598.25,"v":78.7,"g":"up"}
    ]
  },
  "layer": [
    {
      "data": {"name": "candles"},
      "mark": {"type": "rule", "strokeWidth": 1},
      "encoding": {
        "x": {
          "field": "i",
          "type": "quantitative",
          "scale": {"domain": [-0.25, 598.25], "nice": false, "zero": false},
          "axis": {
            "orient": "bottom",
            "values": [0,8,16,24,32,40,48,56,64,72,80,88,96,104,112,120,128,136,144,152,160,168,176,184,192,200,208,216,224,232,240,248,256,264,272,280,288,296,304,312,320,328,336,344,352,360,368,376,384,392,400,408,416,424,432,440,448,456,464,472,480,488,496,504,512,520,528,536,544,552,560,568,576,584,592],
            "tickCount": 200,
            "labelExpr": "datum.value % 32 == 0 ? ['6 Apr 2026','14 Apr 00:00','21 Apr 08:00','28 Apr 16:00','6 May 00:00','13 May 08:00','20 May 16:00','28 May 00:00','4 Jun 08:00','11 Jun 16:00','19 Jun 00:00','26 Jun 12:00','6 Jul 00:00','13 Jul 08:00','20 Jul 16:00','28 Jul 00:00','4 Aug 08:00','11 Aug 16:00','19 Aug 00:00'][datum.value / 32] : ''",
            "labelAlign": "left",
            "labelBaseline": "top",
            "labelPadding": 3,
            "labelFont": "DejaVu Sans",
            "labelFontSize": 11,
            "labelColor": "#000000",
            "labelOverlap": false,
            "labelFlush": false,
            "domainColor": "#000000",
            "tickColor": "#000000",
            "tickSize": 4,
            "tickOpacity": {"condition": {"test": "datum.value % 32 == 0", "value": 1}, "value": 0},
            "grid": true,
            "gridColor": "#dddddd",
            "gridDash": [3, 3],
            "title": null
          }
        },
        "y": {
          "field": "l",
          "type": "quantitative",
          "scale": {"domain": [61.03, 118.1], "nice": false, "zero": false},
          "axis": {
            "orient": "right",
            "values": [62.55,64.1,65.65,67.2,68.75,70.3,71.85,73.4,74.95,76.5,78.05,79.6,81.15,82.7,84.25,85.8,87.35,88.9,90.45,92.0,93.55,95.1,96.65,98.2,99.75,101.3,102.85,104.4,105.95,107.5,109.05,110.6,112.15,113.7,115.25,116.8],
            "tickCount": 200,
            "format": ".2f",
            "labelFont": "DejaVu Sans",
            "labelFontSize": 10.8,
            "labelColor": "#000000",
            "labelPadding": 0,
            "labelOverlap": false,
            "labelFlush": false,
            "domainColor": "#000000",
            "tickColor": "#000000",
            "tickSize": 4,
            "grid": true,
            "gridColor": "#dddddd",
            "gridDash": [3, 3],
            "title": null
          }
        },
        "y2": {"field": "h"},
        "color": {"condition": {"test": "datum.c >= datum.o", "value": "#26a69a"}, "value": "#ef5350"}
      }
    },
    {
      "data": {"name": "candles"},
      "mark": {"type": "bar", "size": 2, "strokeWidth": 1},
      "encoding": {
        "x": {"field": "i", "type": "quantitative", "scale": {"domain": [-0.25, 598.25], "nice": false, "zero": false}},
        "y": {"field": "o", "type": "quantitative", "scale": {"domain": [61.03, 118.1], "nice": false, "zero": false}},
        "y2": {"field": "c"},
        "color": {"condition": {"test": "datum.c >= datum.o", "value": "#26a69a"}, "value": "#ef5350"},
        "stroke": {"condition": {"test": "datum.c >= datum.o", "value": "#26a69a"}, "value": "#ef5350"}
      }
    },
    {
      "data": {"name": "ma"},
      "mark": {"type": "line", "strokeWidth": 1.2, "interpolate": "monotone", "clip": true},
      "encoding": {
        "x": {"field": "i", "type": "quantitative", "scale": {"domain": [-0.25, 598.25], "nice": false, "zero": false}},
        "y": {"field": "v", "type": "quantitative", "scale": {"domain": [61.03, 118.1], "nice": false, "zero": false}},
        "color": {"field": "s", "type": "nominal", "scale": {"domain": ["fast", "slow"], "range": ["#0c0ca0", "#e0662a"]}, "legend": null}
      }
    },
    {
      "data": {"name": "trend"},
      "mark": {"type": "line", "color": "#b40000", "strokeWidth": 1, "clip": true},
      "encoding": {
        "x": {"field": "i", "type": "quantitative", "scale": {"domain": [-0.25, 598.25], "nice": false, "zero": false}},
        "y": {"field": "v", "type": "quantitative", "scale": {"domain": [61.03, 118.1], "nice": false, "zero": false}},
        "detail": {"field": "g", "type": "nominal"}
      }
    },
    {
      "data": {"name": "levels"},
      "mark": {"type": "rule", "color": "#b40000", "strokeWidth": 1},
      "encoding": {
        "y": {"field": "p", "type": "quantitative", "scale": {"domain": [61.03, 118.1], "nice": false, "zero": false}}
      }
    },
    {
      "data": {"values": [{}]},
      "mark": {"type": "rule", "color": "#000000", "strokeWidth": 2},
      "encoding": {
        "x": {"datum": -0.25, "type": "quantitative", "scale": {"domain": [-0.25, 598.25], "nice": false, "zero": false}}
      }
    },
    {
      "data": {"name": "levels"},
      "mark": {"type": "tick", "orient": "horizontal", "size": 44, "thickness": 12, "color": "#f00000", "opacity": 1, "clip": false},
      "encoding": {
        "x": {"datum": 603.75, "type": "quantitative", "scale": {"domain": [-0.25, 598.25], "nice": false, "zero": false}},
        "y": {"field": "p", "type": "quantitative", "scale": {"domain": [61.03, 118.1], "nice": false, "zero": false}}
      }
    },
    {
      "data": {"name": "levels"},
      "mark": {"type": "text", "color": "#ffffff", "font": "DejaVu Sans", "fontSize": 10.8, "align": "left", "baseline": "middle", "clip": false},
      "encoding": {
        "x": {"datum": 599.25, "type": "quantitative", "scale": {"domain": [-0.25, 598.25], "nice": false, "zero": false}},
        "y": {"field": "p", "type": "quantitative", "scale": {"domain": [61.03, 118.1], "nice": false, "zero": false}},
        "text": {"field": "t", "type": "nominal"}
      }
    }
  ]
}
